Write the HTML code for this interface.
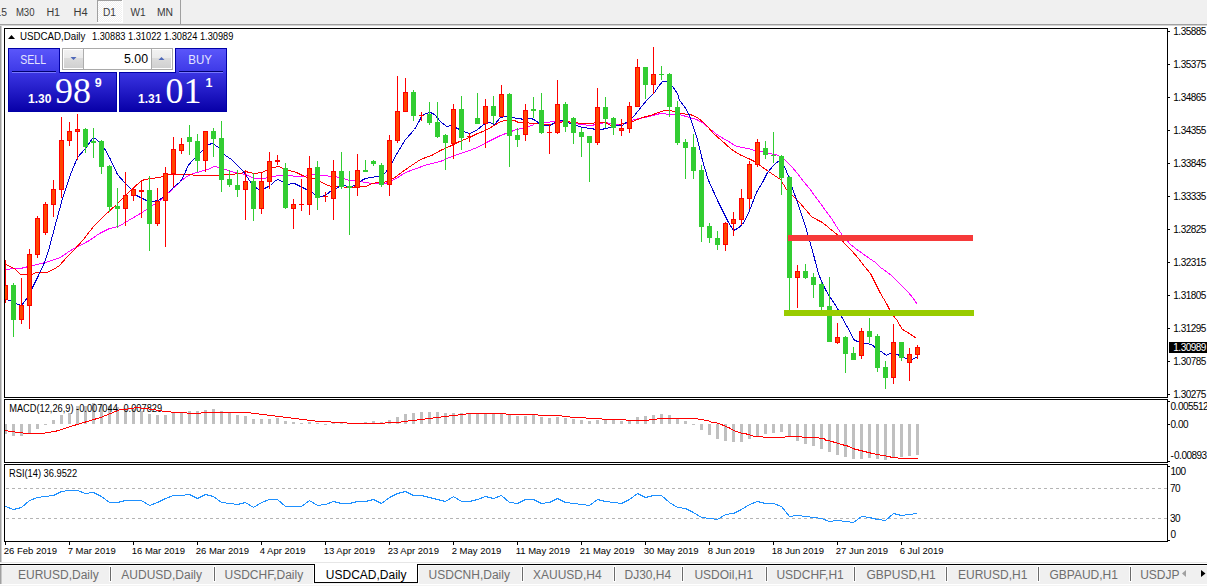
<!DOCTYPE html>
<html><head><meta charset="utf-8"><style>
html,body{margin:0;padding:0;width:1207px;height:586px;overflow:hidden;background:#fff;font-family:"Liberation Sans", sans-serif;}
svg text{font-family:"Liberation Sans", sans-serif;}
</style></head><body>
<svg width="1207" height="586" viewBox="0 0 1207 586" style="position:absolute;left:0;top:0" font-family='"Liberation Sans", sans-serif'>
<rect x="0" y="0" width="1207" height="586" fill="#ffffff"/>
<rect x="0" y="0" width="1207" height="24" fill="#f0f0f0"/>
<rect x="0" y="24" width="1207" height="1" fill="#a0a0a0"/>
<rect x="0" y="25" width="1207" height="1" fill="#d4d4d4"/>
<defs><pattern id="chk" x="0" y="0" width="2" height="2" patternUnits="userSpaceOnUse"><rect width="2" height="2" fill="#f0f0f0"/><rect width="1" height="1" fill="#ffffff"/><rect x="1" y="1" width="1" height="1" fill="#ffffff"/></pattern></defs>
<rect x="97" y="0" width="25" height="22" fill="url(#chk)" shape-rendering="crispEdges"/>
<rect x="122" y="0" width="1" height="23" fill="#ffffff"/>
<rect x="97" y="22" width="26" height="1" fill="#ffffff"/>
<rect x="97" y="0" width="1" height="22" fill="#a0a0a0"/>
<rect x="97" y="0" width="25" height="1" fill="#a0a0a0"/>
<rect x="180" y="0" width="1" height="24" fill="#a0a0a0"/>
<text x="-4.60" y="16.2" font-size="10" fill="#3a3a3a" textLength="11.50" lengthAdjust="spacingAndGlyphs">15</text>
<text x="15.90" y="16.2" font-size="10" fill="#3a3a3a" textLength="18.60" lengthAdjust="spacingAndGlyphs">M30</text>
<text x="46.40" y="16.2" font-size="10" fill="#3a3a3a" textLength="13.70" lengthAdjust="spacingAndGlyphs">H1</text>
<text x="73.40" y="16.2" font-size="10" fill="#3a3a3a" textLength="14.20" lengthAdjust="spacingAndGlyphs">H4</text>
<text x="103.00" y="16.2" font-size="10" fill="#3a3a3a" textLength="13.00" lengthAdjust="spacingAndGlyphs">D1</text>
<text x="130.40" y="16.2" font-size="10" fill="#3a3a3a" textLength="15.20" lengthAdjust="spacingAndGlyphs">W1</text>
<text x="156.90" y="16.2" font-size="10" fill="#3a3a3a" textLength="16.10" lengthAdjust="spacingAndGlyphs">MN</text>
<rect x="0" y="26" width="1" height="536" fill="#a0a0a0"/>
<rect x="1" y="26" width="1" height="536" fill="#d0d0d0"/>
<g shape-rendering="crispEdges">
<rect x="4.5" y="28.5" width="1163" height="369" fill="none" stroke="#000" stroke-width="1"/>
<rect x="4.5" y="399.5" width="1163" height="63" fill="none" stroke="#000" stroke-width="1"/>
<rect x="4.5" y="464.5" width="1163" height="77" fill="none" stroke="#000" stroke-width="1"/>
</g>
<defs><clipPath id="cm"><rect x="5" y="29" width="1162" height="368"/></clipPath><clipPath id="cd"><rect x="5" y="400" width="1162" height="62"/></clipPath><clipPath id="cr"><rect x="5" y="465" width="1162" height="76"/></clipPath></defs>
<g clip-path="url(#cm)" fill="none" stroke-width="1" shape-rendering="crispEdges">
<polyline points="5.5,269.5 15.5,268.5 20.5,268.5 32.5,265.5 45.5,262.5 60.5,257.5 70.5,250.5 89.5,240.5 99.5,233.5 109.5,228.5 118.5,226.5 128.5,220.5 140.5,213.5 146.5,209.5 152.5,205.5 159.5,201.5 166.5,194.5 173.5,188.5 180.5,181.5 186.5,176.5 193.5,173.5 200.5,171.5 207.5,169.5 214.5,166.5 219.5,167.5 225.5,169.5 234.5,172.5 245.5,174.5 254.5,178.5 262.5,178.5 270.5,177.5 277.5,175.5 280.5,175.5 288.5,175.5 296.5,176.5 303.5,176.5 308.5,175.5 315.5,174.5 323.5,175.5 332.5,176.5 340.5,177.5 343.5,178.5 349.5,180.5 355.5,180.5 360.5,181.5 365.5,182.5 372.5,183.5 380.5,183.5 385.5,183.5 394.5,179.5 405.5,172.5 416.5,168.5 424.5,165.5 431.5,163.5 440.5,161.5 449.5,157.5 460.5,153.5 469.5,150.5 479.5,146.5 486.5,142.5 494.5,138.5 500.5,135.5 508.5,132.5 516.5,129.5 522.5,128.5 528.5,126.5 534.5,124.5 535.5,123.5 541.5,122.5 545.5,122.5 554.5,121.5 564.5,121.5 573.5,123.5 581.5,124.5 590.5,125.5 596.5,124.5 605.5,122.5 609.5,123.5 610.5,123.5 617.5,124.5 625.5,123.5 634.5,119.5 644.5,117.5 652.5,115.5 660.5,113.5 670.5,114.5 679.5,114.5 689.5,117.5 696.5,119.5 703.5,123.5 709.5,128.5 715.5,133.5 721.5,137.5 730.5,142.5 734.5,145.5 741.5,147.5 748.5,148.5 754.5,150.5 761.5,151.5 768.5,153.5 775.5,154.5 780.5,156.5 785.5,160.5 791.5,166.5 797.5,173.5 803.5,181.5 809.5,188.5 814.5,195.5 820.5,203.5 825.5,210.5 831.5,218.5 836.5,226.5 842.5,235.5 844.5,236.5 849.5,243.5 855.5,248.5 862.5,253.5 869.5,258.5 875.5,262.5 880.5,267.5 883.5,269.5 891.5,275.5 896.5,280.5 902.5,286.5 908.5,292.5 912.5,297.5 917.5,304.5" stroke="#ff00ff"/>
<polyline points="5.5,264.5 10.5,266.5 15.5,269.5 20.5,274.5 31.5,274.5 36.5,272.5 46.5,272.5 53.5,269.5 59.5,265.5 66.5,257.5 73.5,250.5 83.5,239.5 93.5,226.5 103.5,216.5 116.5,204.5 128.5,192.5 140.5,181.5 144.5,179.5 151.5,178.5 158.5,177.5 163.5,176.5 167.5,174.5 178.5,174.5 188.5,174.5 196.5,175.5 201.5,175.5 215.5,175.5 225.5,174.5 233.5,174.5 236.5,173.5 240.5,173.5 245.5,171.5 249.5,172.5 254.5,173.5 261.5,172.5 266.5,170.5 273.5,167.5 278.5,166.5 283.5,168.5 289.5,170.5 296.5,172.5 302.5,175.5 307.5,177.5 310.5,178.5 314.5,178.5 320.5,181.5 325.5,184.5 331.5,186.5 341.5,186.5 346.5,187.5 351.5,187.5 357.5,186.5 365.5,186.5 372.5,183.5 378.5,182.5 384.5,182.5 385.5,181.5 393.5,178.5 401.5,172.5 408.5,167.5 420.5,159.5 431.5,155.5 440.5,150.5 449.5,146.5 459.5,141.5 469.5,137.5 477.5,133.5 485.5,130.5 492.5,126.5 500.5,121.5 505.5,120.5 514.5,120.5 518.5,122.5 524.5,122.5 532.5,123.5 535.5,123.5 541.5,123.5 545.5,124.5 551.5,124.5 558.5,122.5 565.5,121.5 573.5,122.5 582.5,123.5 591.5,123.5 596.5,122.5 605.5,122.5 607.5,123.5 610.5,125.5 617.5,125.5 623.5,123.5 632.5,121.5 637.5,119.5 642.5,117.5 650.5,115.5 658.5,112.5 664.5,110.5 670.5,110.5 679.5,113.5 689.5,114.5 693.5,115.5 698.5,118.5 703.5,122.5 707.5,126.5 713.5,133.5 721.5,140.5 730.5,148.5 734.5,151.5 741.5,155.5 748.5,158.5 754.5,161.5 761.5,166.5 768.5,171.5 774.5,175.5 780.5,179.5 786.5,189.5 793.5,196.5 799.5,202.5 805.5,209.5 811.5,216.5 816.5,219.5 822.5,222.5 828.5,227.5 834.5,232.5 839.5,236.5 844.5,243.5 851.5,250.5 858.5,258.5 864.5,266.5 870.5,273.5 875.5,283.5 880.5,293.5 886.5,303.5 891.5,313.5 896.5,319.5 902.5,329.5 909.5,333.5 916.5,338.5" stroke="#ff0000"/>
<polyline points="5.5,299.5 10.5,300.5 15.5,303.5 21.5,305.5 27.5,297.5 32.5,287.5 38.5,275.5 44.5,262.5 48.5,250.5 56.5,220.5 62.5,198.5 70.5,174.5 77.5,157.5 85.5,148.5 92.5,138.5 95.5,138.5 99.5,142.5 104.5,148.5 110.5,159.5 117.5,174.5 125.5,183.5 131.5,189.5 136.5,195.5 142.5,198.5 148.5,201.5 152.5,201.5 158.5,200.5 162.5,197.5 168.5,192.5 174.5,186.5 180.5,181.5 184.5,174.5 187.5,166.5 191.5,161.5 196.5,156.5 203.5,149.5 208.5,144.5 212.5,143.5 218.5,147.5 223.5,153.5 225.5,155.5 231.5,159.5 237.5,165.5 242.5,170.5 247.5,177.5 251.5,183.5 254.5,186.5 258.5,189.5 264.5,188.5 270.5,185.5 274.5,181.5 277.5,179.5 280.5,180.5 286.5,184.5 294.5,183.5 300.5,186.5 306.5,189.5 313.5,193.5 317.5,196.5 322.5,196.5 326.5,194.5 331.5,190.5 336.5,188.5 340.5,185.5 345.5,185.5 348.5,187.5 352.5,186.5 357.5,183.5 361.5,180.5 365.5,178.5 371.5,177.5 377.5,176.5 382.5,175.5 385.5,172.5 391.5,163.5 397.5,152.5 405.5,139.5 414.5,129.5 418.5,122.5 421.5,116.5 425.5,113.5 430.5,112.5 434.5,114.5 440.5,121.5 446.5,126.5 451.5,125.5 457.5,128.5 463.5,131.5 469.5,133.5 476.5,130.5 483.5,124.5 489.5,122.5 494.5,124.5 500.5,117.5 504.5,116.5 508.5,116.5 513.5,117.5 516.5,118.5 518.5,118.5 524.5,119.5 531.5,118.5 535.5,120.5 540.5,124.5 545.5,125.5 550.5,125.5 554.5,122.5 561.5,120.5 565.5,121.5 570.5,123.5 576.5,125.5 582.5,127.5 590.5,128.5 596.5,129.5 600.5,129.5 606.5,128.5 612.5,126.5 619.5,125.5 622.5,125.5 628.5,120.5 634.5,115.5 641.5,106.5 647.5,99.5 654.5,92.5 658.5,86.5 662.5,81.5 667.5,81.5 672.5,86.5 677.5,93.5 679.5,100.5 684.5,106.5 689.5,115.5 693.5,127.5 697.5,139.5 702.5,160.5 705.5,170.5 708.5,180.5 713.5,191.5 718.5,202.5 723.5,212.5 728.5,222.5 733.5,230.5 737.5,228.5 742.5,224.5 747.5,215.5 749.5,210.5 756.5,192.5 762.5,182.5 767.5,172.5 773.5,165.5 776.5,162.5 780.5,160.5 784.5,166.5 788.5,176.5 793.5,191.5 796.5,199.5 799.5,208.5 802.5,217.5 805.5,226.5 808.5,237.5 812.5,250.5 815.5,262.5 818.5,273.5 821.5,281.5 825.5,289.5 829.5,296.5 834.5,303.5 838.5,310.5 841.5,316.5 846.5,325.5 850.5,332.5 853.5,339.5 857.5,341.5 860.5,342.5 866.5,343.5 871.5,344.5 876.5,348.5 882.5,352.5 886.5,355.5 891.5,352.5 897.5,354.5 903.5,357.5 908.5,359.5 912.5,359.5 917.5,356.5" stroke="#0000cd"/>
</g>
<g clip-path="url(#cm)" shape-rendering="crispEdges">
<rect x="5" y="260" width="1" height="43" fill="#ff0000"/>
<rect x="3" y="285" width="5" height="15" fill="#ff0000"/>
<rect x="4" y="286" width="3" height="13" fill="#ff4500"/>
<rect x="13" y="283" width="1" height="54" fill="#32cd32"/>
<rect x="11" y="285" width="5" height="35" fill="#32cd32"/>
<rect x="21" y="278" width="1" height="46" fill="#ff0000"/>
<rect x="19" y="305" width="5" height="15" fill="#ff0000"/>
<rect x="20" y="306" width="3" height="13" fill="#ff4500"/>
<rect x="29" y="249" width="1" height="80" fill="#ff0000"/>
<rect x="27" y="254" width="5" height="52" fill="#ff0000"/>
<rect x="28" y="255" width="3" height="50" fill="#ff4500"/>
<rect x="37" y="216" width="1" height="42" fill="#ff0000"/>
<rect x="35" y="218" width="5" height="37" fill="#ff0000"/>
<rect x="36" y="219" width="3" height="35" fill="#ff4500"/>
<rect x="45" y="202" width="1" height="33" fill="#ff0000"/>
<rect x="43" y="204" width="5" height="29" fill="#ff0000"/>
<rect x="44" y="205" width="3" height="27" fill="#ff4500"/>
<rect x="53" y="180" width="1" height="37" fill="#ff0000"/>
<rect x="51" y="189" width="5" height="16" fill="#ff0000"/>
<rect x="52" y="190" width="3" height="14" fill="#ff4500"/>
<rect x="61" y="117" width="1" height="81" fill="#ff0000"/>
<rect x="59" y="140" width="5" height="50" fill="#ff0000"/>
<rect x="60" y="141" width="3" height="48" fill="#ff4500"/>
<rect x="69" y="122" width="1" height="24" fill="#ff0000"/>
<rect x="67" y="131" width="5" height="10" fill="#ff0000"/>
<rect x="68" y="132" width="3" height="8" fill="#ff4500"/>
<rect x="77" y="114" width="1" height="46" fill="#ff0000"/>
<rect x="75" y="129" width="5" height="3" fill="#ff0000"/>
<rect x="76" y="130" width="3" height="1" fill="#ff4500"/>
<rect x="85" y="128" width="1" height="25" fill="#32cd32"/>
<rect x="83" y="129" width="5" height="18" fill="#32cd32"/>
<rect x="93" y="128" width="1" height="30" fill="#32cd32"/>
<rect x="91" y="141" width="5" height="2" fill="#32cd32"/>
<rect x="101" y="140" width="1" height="34" fill="#32cd32"/>
<rect x="99" y="141" width="5" height="26" fill="#32cd32"/>
<rect x="109" y="165" width="1" height="47" fill="#32cd32"/>
<rect x="107" y="166" width="5" height="41" fill="#32cd32"/>
<rect x="117" y="188" width="1" height="40" fill="#32cd32"/>
<rect x="115" y="206" width="5" height="3" fill="#32cd32"/>
<rect x="125" y="172" width="1" height="54" fill="#ff0000"/>
<rect x="123" y="195" width="5" height="14" fill="#ff0000"/>
<rect x="124" y="196" width="3" height="12" fill="#ff4500"/>
<rect x="133" y="187" width="1" height="14" fill="#ff0000"/>
<rect x="131" y="189" width="5" height="7" fill="#ff0000"/>
<rect x="132" y="190" width="3" height="5" fill="#ff4500"/>
<rect x="141" y="180" width="1" height="38" fill="#ff0000"/>
<rect x="139" y="190" width="5" height="2" fill="#ff0000"/>
<rect x="149" y="176" width="1" height="75" fill="#32cd32"/>
<rect x="147" y="190" width="5" height="34" fill="#32cd32"/>
<rect x="157" y="188" width="1" height="38" fill="#ff0000"/>
<rect x="155" y="201" width="5" height="23" fill="#ff0000"/>
<rect x="156" y="202" width="3" height="21" fill="#ff4500"/>
<rect x="165" y="167" width="1" height="80" fill="#ff0000"/>
<rect x="163" y="173" width="5" height="28" fill="#ff0000"/>
<rect x="164" y="174" width="3" height="26" fill="#ff4500"/>
<rect x="173" y="137" width="1" height="50" fill="#ff0000"/>
<rect x="171" y="149" width="5" height="25" fill="#ff0000"/>
<rect x="172" y="150" width="3" height="23" fill="#ff4500"/>
<rect x="181" y="138" width="1" height="16" fill="#ff0000"/>
<rect x="179" y="144" width="5" height="7" fill="#ff0000"/>
<rect x="180" y="145" width="3" height="5" fill="#ff4500"/>
<rect x="189" y="125" width="1" height="30" fill="#32cd32"/>
<rect x="187" y="137" width="5" height="5" fill="#32cd32"/>
<rect x="197" y="134" width="1" height="38" fill="#32cd32"/>
<rect x="195" y="141" width="5" height="20" fill="#32cd32"/>
<rect x="205" y="131" width="1" height="41" fill="#ff0000"/>
<rect x="203" y="131" width="5" height="30" fill="#ff0000"/>
<rect x="204" y="132" width="3" height="28" fill="#ff4500"/>
<rect x="213" y="128" width="1" height="29" fill="#32cd32"/>
<rect x="211" y="131" width="5" height="8" fill="#32cd32"/>
<rect x="221" y="121" width="1" height="71" fill="#32cd32"/>
<rect x="219" y="138" width="5" height="42" fill="#32cd32"/>
<rect x="229" y="170" width="1" height="17" fill="#32cd32"/>
<rect x="227" y="179" width="5" height="6" fill="#32cd32"/>
<rect x="237" y="170" width="1" height="27" fill="#32cd32"/>
<rect x="235" y="185" width="5" height="5" fill="#32cd32"/>
<rect x="245" y="170" width="1" height="50" fill="#ff0000"/>
<rect x="243" y="181" width="5" height="9" fill="#ff0000"/>
<rect x="244" y="182" width="3" height="7" fill="#ff4500"/>
<rect x="253" y="173" width="1" height="48" fill="#32cd32"/>
<rect x="251" y="181" width="5" height="28" fill="#32cd32"/>
<rect x="261" y="173" width="1" height="41" fill="#ff0000"/>
<rect x="259" y="181" width="5" height="28" fill="#ff0000"/>
<rect x="260" y="182" width="3" height="26" fill="#ff4500"/>
<rect x="269" y="152" width="1" height="37" fill="#ff0000"/>
<rect x="267" y="161" width="5" height="21" fill="#ff0000"/>
<rect x="268" y="162" width="3" height="19" fill="#ff4500"/>
<rect x="277" y="155" width="1" height="10" fill="#ff0000"/>
<rect x="275" y="160" width="5" height="2" fill="#ff0000"/>
<rect x="285" y="163" width="1" height="46" fill="#32cd32"/>
<rect x="283" y="168" width="5" height="40" fill="#32cd32"/>
<rect x="293" y="199" width="1" height="30" fill="#ff0000"/>
<rect x="291" y="204" width="5" height="5" fill="#ff0000"/>
<rect x="292" y="205" width="3" height="3" fill="#ff4500"/>
<rect x="301" y="179" width="1" height="32" fill="#ff0000"/>
<rect x="299" y="204" width="5" height="1" fill="#ff0000"/>
<rect x="309" y="156" width="1" height="59" fill="#ff0000"/>
<rect x="307" y="168" width="5" height="37" fill="#ff0000"/>
<rect x="308" y="169" width="3" height="35" fill="#ff4500"/>
<rect x="317" y="161" width="1" height="49" fill="#32cd32"/>
<rect x="315" y="167" width="5" height="31" fill="#32cd32"/>
<rect x="325" y="192" width="1" height="10" fill="#ff0000"/>
<rect x="323" y="196" width="5" height="1" fill="#ff0000"/>
<rect x="333" y="160" width="1" height="60" fill="#ff0000"/>
<rect x="331" y="171" width="5" height="28" fill="#ff0000"/>
<rect x="332" y="172" width="3" height="26" fill="#ff4500"/>
<rect x="341" y="152" width="1" height="37" fill="#32cd32"/>
<rect x="339" y="171" width="5" height="16" fill="#32cd32"/>
<rect x="349" y="171" width="1" height="64" fill="#32cd32"/>
<rect x="347" y="186" width="5" height="2" fill="#32cd32"/>
<rect x="357" y="154" width="1" height="42" fill="#ff0000"/>
<rect x="355" y="170" width="5" height="18" fill="#ff0000"/>
<rect x="356" y="171" width="3" height="16" fill="#ff4500"/>
<rect x="365" y="160" width="1" height="12" fill="#32cd32"/>
<rect x="363" y="170" width="5" height="2" fill="#32cd32"/>
<rect x="373" y="160" width="1" height="6" fill="#32cd32"/>
<rect x="371" y="161" width="5" height="3" fill="#32cd32"/>
<rect x="381" y="163" width="1" height="24" fill="#32cd32"/>
<rect x="379" y="165" width="5" height="20" fill="#32cd32"/>
<rect x="389" y="135" width="1" height="61" fill="#ff0000"/>
<rect x="387" y="140" width="5" height="45" fill="#ff0000"/>
<rect x="388" y="141" width="3" height="43" fill="#ff4500"/>
<rect x="397" y="76" width="1" height="67" fill="#ff0000"/>
<rect x="395" y="111" width="5" height="30" fill="#ff0000"/>
<rect x="396" y="112" width="3" height="28" fill="#ff4500"/>
<rect x="405" y="78" width="1" height="34" fill="#ff0000"/>
<rect x="403" y="92" width="5" height="20" fill="#ff0000"/>
<rect x="404" y="93" width="3" height="18" fill="#ff4500"/>
<rect x="413" y="90" width="1" height="31" fill="#32cd32"/>
<rect x="411" y="92" width="5" height="24" fill="#32cd32"/>
<rect x="421" y="112" width="1" height="9" fill="#ff0000"/>
<rect x="419" y="115" width="5" height="1" fill="#ff0000"/>
<rect x="429" y="102" width="1" height="23" fill="#32cd32"/>
<rect x="427" y="114" width="5" height="9" fill="#32cd32"/>
<rect x="437" y="102" width="1" height="36" fill="#32cd32"/>
<rect x="435" y="122" width="5" height="15" fill="#32cd32"/>
<rect x="445" y="134" width="1" height="36" fill="#32cd32"/>
<rect x="443" y="135" width="5" height="8" fill="#32cd32"/>
<rect x="453" y="104" width="1" height="55" fill="#ff0000"/>
<rect x="451" y="109" width="5" height="35" fill="#ff0000"/>
<rect x="452" y="110" width="3" height="33" fill="#ff4500"/>
<rect x="461" y="96" width="1" height="54" fill="#32cd32"/>
<rect x="459" y="109" width="5" height="29" fill="#32cd32"/>
<rect x="469" y="133" width="1" height="9" fill="#ff0000"/>
<rect x="467" y="136" width="5" height="1" fill="#ff0000"/>
<rect x="477" y="93" width="1" height="31" fill="#32cd32"/>
<rect x="475" y="118" width="5" height="6" fill="#32cd32"/>
<rect x="485" y="99" width="1" height="49" fill="#ff0000"/>
<rect x="483" y="106" width="5" height="18" fill="#ff0000"/>
<rect x="484" y="107" width="3" height="16" fill="#ff4500"/>
<rect x="493" y="96" width="1" height="28" fill="#32cd32"/>
<rect x="491" y="106" width="5" height="10" fill="#32cd32"/>
<rect x="501" y="85" width="1" height="32" fill="#ff0000"/>
<rect x="499" y="94" width="5" height="23" fill="#ff0000"/>
<rect x="500" y="95" width="3" height="21" fill="#ff4500"/>
<rect x="509" y="93" width="1" height="74" fill="#32cd32"/>
<rect x="507" y="94" width="5" height="42" fill="#32cd32"/>
<rect x="517" y="128" width="1" height="19" fill="#32cd32"/>
<rect x="515" y="135" width="5" height="5" fill="#32cd32"/>
<rect x="525" y="104" width="1" height="37" fill="#ff0000"/>
<rect x="523" y="110" width="5" height="25" fill="#ff0000"/>
<rect x="524" y="111" width="3" height="23" fill="#ff4500"/>
<rect x="533" y="97" width="1" height="21" fill="#32cd32"/>
<rect x="531" y="109" width="5" height="2" fill="#32cd32"/>
<rect x="541" y="93" width="1" height="41" fill="#32cd32"/>
<rect x="539" y="110" width="5" height="23" fill="#32cd32"/>
<rect x="549" y="124" width="1" height="30" fill="#ff0000"/>
<rect x="547" y="132" width="5" height="1" fill="#ff0000"/>
<rect x="557" y="80" width="1" height="54" fill="#ff0000"/>
<rect x="555" y="104" width="5" height="29" fill="#ff0000"/>
<rect x="556" y="105" width="3" height="27" fill="#ff4500"/>
<rect x="565" y="102" width="1" height="30" fill="#32cd32"/>
<rect x="563" y="104" width="5" height="23" fill="#32cd32"/>
<rect x="573" y="117" width="1" height="27" fill="#32cd32"/>
<rect x="571" y="118" width="5" height="15" fill="#32cd32"/>
<rect x="581" y="128" width="1" height="29" fill="#32cd32"/>
<rect x="579" y="132" width="5" height="5" fill="#32cd32"/>
<rect x="589" y="136" width="1" height="46" fill="#32cd32"/>
<rect x="587" y="136" width="5" height="7" fill="#32cd32"/>
<rect x="597" y="88" width="1" height="57" fill="#ff0000"/>
<rect x="595" y="107" width="5" height="36" fill="#ff0000"/>
<rect x="596" y="108" width="3" height="34" fill="#ff4500"/>
<rect x="605" y="97" width="1" height="31" fill="#32cd32"/>
<rect x="603" y="107" width="5" height="12" fill="#32cd32"/>
<rect x="613" y="117" width="1" height="18" fill="#32cd32"/>
<rect x="611" y="118" width="5" height="10" fill="#32cd32"/>
<rect x="621" y="119" width="1" height="17" fill="#ff0000"/>
<rect x="619" y="128" width="5" height="3" fill="#ff0000"/>
<rect x="620" y="129" width="3" height="1" fill="#ff4500"/>
<rect x="629" y="102" width="1" height="31" fill="#ff0000"/>
<rect x="627" y="106" width="5" height="23" fill="#ff0000"/>
<rect x="628" y="107" width="3" height="21" fill="#ff4500"/>
<rect x="637" y="59" width="1" height="48" fill="#ff0000"/>
<rect x="635" y="67" width="5" height="40" fill="#ff0000"/>
<rect x="636" y="68" width="3" height="38" fill="#ff4500"/>
<rect x="645" y="67" width="1" height="32" fill="#32cd32"/>
<rect x="643" y="67" width="5" height="18" fill="#32cd32"/>
<rect x="653" y="47" width="1" height="47" fill="#ff0000"/>
<rect x="651" y="74" width="5" height="11" fill="#ff0000"/>
<rect x="652" y="75" width="3" height="9" fill="#ff4500"/>
<rect x="661" y="66" width="1" height="14" fill="#32cd32"/>
<rect x="659" y="74" width="5" height="1" fill="#32cd32"/>
<rect x="669" y="73" width="1" height="44" fill="#32cd32"/>
<rect x="667" y="74" width="5" height="33" fill="#32cd32"/>
<rect x="677" y="101" width="1" height="44" fill="#32cd32"/>
<rect x="675" y="107" width="5" height="36" fill="#32cd32"/>
<rect x="685" y="139" width="1" height="40" fill="#32cd32"/>
<rect x="683" y="142" width="5" height="6" fill="#32cd32"/>
<rect x="693" y="134" width="1" height="45" fill="#32cd32"/>
<rect x="691" y="147" width="5" height="24" fill="#32cd32"/>
<rect x="701" y="165" width="1" height="77" fill="#32cd32"/>
<rect x="699" y="170" width="5" height="57" fill="#32cd32"/>
<rect x="709" y="223" width="1" height="20" fill="#32cd32"/>
<rect x="707" y="226" width="5" height="12" fill="#32cd32"/>
<rect x="717" y="231" width="1" height="19" fill="#32cd32"/>
<rect x="715" y="238" width="5" height="7" fill="#32cd32"/>
<rect x="725" y="222" width="1" height="29" fill="#ff0000"/>
<rect x="723" y="223" width="5" height="22" fill="#ff0000"/>
<rect x="724" y="224" width="3" height="20" fill="#ff4500"/>
<rect x="733" y="212" width="1" height="24" fill="#ff0000"/>
<rect x="731" y="219" width="5" height="5" fill="#ff0000"/>
<rect x="732" y="220" width="3" height="3" fill="#ff4500"/>
<rect x="741" y="189" width="1" height="36" fill="#ff0000"/>
<rect x="739" y="198" width="5" height="22" fill="#ff0000"/>
<rect x="740" y="199" width="3" height="20" fill="#ff4500"/>
<rect x="749" y="161" width="1" height="48" fill="#ff0000"/>
<rect x="747" y="164" width="5" height="35" fill="#ff0000"/>
<rect x="748" y="165" width="3" height="33" fill="#ff4500"/>
<rect x="757" y="139" width="1" height="28" fill="#ff0000"/>
<rect x="755" y="142" width="5" height="23" fill="#ff0000"/>
<rect x="756" y="143" width="3" height="21" fill="#ff4500"/>
<rect x="765" y="141" width="1" height="18" fill="#32cd32"/>
<rect x="763" y="148" width="5" height="7" fill="#32cd32"/>
<rect x="773" y="132" width="1" height="31" fill="#32cd32"/>
<rect x="771" y="155" width="5" height="1" fill="#32cd32"/>
<rect x="781" y="155" width="1" height="40" fill="#32cd32"/>
<rect x="779" y="156" width="5" height="22" fill="#32cd32"/>
<rect x="789" y="176" width="1" height="135" fill="#32cd32"/>
<rect x="787" y="177" width="5" height="101" fill="#32cd32"/>
<rect x="797" y="265" width="1" height="43" fill="#ff0000"/>
<rect x="795" y="271" width="5" height="7" fill="#ff0000"/>
<rect x="796" y="272" width="3" height="5" fill="#ff4500"/>
<rect x="805" y="264" width="1" height="15" fill="#32cd32"/>
<rect x="803" y="271" width="5" height="7" fill="#32cd32"/>
<rect x="813" y="273" width="1" height="25" fill="#32cd32"/>
<rect x="811" y="277" width="5" height="8" fill="#32cd32"/>
<rect x="821" y="282" width="1" height="28" fill="#32cd32"/>
<rect x="819" y="284" width="5" height="23" fill="#32cd32"/>
<rect x="829" y="277" width="1" height="65" fill="#32cd32"/>
<rect x="827" y="306" width="5" height="36" fill="#32cd32"/>
<rect x="837" y="323" width="1" height="21" fill="#ff0000"/>
<rect x="835" y="337" width="5" height="6" fill="#ff0000"/>
<rect x="836" y="338" width="3" height="4" fill="#ff4500"/>
<rect x="845" y="336" width="1" height="37" fill="#32cd32"/>
<rect x="843" y="337" width="5" height="17" fill="#32cd32"/>
<rect x="853" y="347" width="1" height="13" fill="#32cd32"/>
<rect x="851" y="353" width="5" height="7" fill="#32cd32"/>
<rect x="861" y="328" width="1" height="31" fill="#ff0000"/>
<rect x="859" y="331" width="5" height="25" fill="#ff0000"/>
<rect x="860" y="332" width="3" height="23" fill="#ff4500"/>
<rect x="869" y="318" width="1" height="25" fill="#32cd32"/>
<rect x="867" y="331" width="5" height="6" fill="#32cd32"/>
<rect x="877" y="334" width="1" height="38" fill="#32cd32"/>
<rect x="875" y="336" width="5" height="32" fill="#32cd32"/>
<rect x="885" y="361" width="1" height="28" fill="#32cd32"/>
<rect x="883" y="367" width="5" height="11" fill="#32cd32"/>
<rect x="893" y="324" width="1" height="60" fill="#ff0000"/>
<rect x="891" y="342" width="5" height="36" fill="#ff0000"/>
<rect x="892" y="343" width="3" height="34" fill="#ff4500"/>
<rect x="901" y="342" width="1" height="19" fill="#32cd32"/>
<rect x="899" y="342" width="5" height="16" fill="#32cd32"/>
<rect x="909" y="348" width="1" height="33" fill="#ff0000"/>
<rect x="907" y="354" width="5" height="9" fill="#ff0000"/>
<rect x="908" y="355" width="3" height="7" fill="#ff4500"/>
<rect x="917" y="345" width="1" height="14" fill="#ff0000"/>
<rect x="915" y="347" width="5" height="8" fill="#ff0000"/>
<rect x="916" y="348" width="3" height="6" fill="#ff4500"/>
</g>
<rect x="788" y="235" width="185" height="6" fill="#f63a3a"/>
<rect x="784" y="310" width="190" height="6" fill="#99cc00"/>
<g clip-path="url(#cd)" shape-rendering="crispEdges">
<rect x="4" y="424" width="3" height="10" fill="#c0c0c0"/>
<rect x="12" y="424" width="3" height="12" fill="#c0c0c0"/>
<rect x="20" y="424" width="3" height="12" fill="#c0c0c0"/>
<rect x="28" y="424" width="3" height="10" fill="#c0c0c0"/>
<rect x="36" y="424" width="3" height="5" fill="#c0c0c0"/>
<rect x="44" y="424" width="3" height="1" fill="#c0c0c0"/>
<rect x="52" y="420" width="3" height="4" fill="#c0c0c0"/>
<rect x="60" y="415" width="3" height="9" fill="#c0c0c0"/>
<rect x="68" y="413" width="3" height="11" fill="#c0c0c0"/>
<rect x="76" y="406" width="3" height="18" fill="#c0c0c0"/>
<rect x="84" y="406" width="3" height="18" fill="#c0c0c0"/>
<rect x="92" y="403" width="3" height="21" fill="#c0c0c0"/>
<rect x="100" y="404" width="3" height="20" fill="#c0c0c0"/>
<rect x="108" y="406" width="3" height="18" fill="#c0c0c0"/>
<rect x="116" y="407" width="3" height="17" fill="#c0c0c0"/>
<rect x="124" y="408" width="3" height="16" fill="#c0c0c0"/>
<rect x="132" y="409" width="3" height="15" fill="#c0c0c0"/>
<rect x="140" y="411" width="3" height="13" fill="#c0c0c0"/>
<rect x="148" y="414" width="3" height="10" fill="#c0c0c0"/>
<rect x="156" y="415" width="3" height="9" fill="#c0c0c0"/>
<rect x="164" y="415" width="3" height="9" fill="#c0c0c0"/>
<rect x="172" y="413" width="3" height="11" fill="#c0c0c0"/>
<rect x="180" y="413" width="3" height="11" fill="#c0c0c0"/>
<rect x="188" y="411" width="3" height="13" fill="#c0c0c0"/>
<rect x="196" y="411" width="3" height="13" fill="#c0c0c0"/>
<rect x="204" y="410" width="3" height="14" fill="#c0c0c0"/>
<rect x="212" y="409" width="3" height="15" fill="#c0c0c0"/>
<rect x="220" y="411" width="3" height="13" fill="#c0c0c0"/>
<rect x="228" y="413" width="3" height="11" fill="#c0c0c0"/>
<rect x="236" y="415" width="3" height="9" fill="#c0c0c0"/>
<rect x="244" y="416" width="3" height="8" fill="#c0c0c0"/>
<rect x="252" y="419" width="3" height="5" fill="#c0c0c0"/>
<rect x="260" y="419" width="3" height="5" fill="#c0c0c0"/>
<rect x="268" y="419" width="3" height="5" fill="#c0c0c0"/>
<rect x="276" y="418" width="3" height="6" fill="#c0c0c0"/>
<rect x="284" y="421" width="3" height="3" fill="#c0c0c0"/>
<rect x="292" y="422" width="3" height="2" fill="#c0c0c0"/>
<rect x="300" y="423" width="3" height="1" fill="#c0c0c0"/>
<rect x="308" y="422" width="3" height="2" fill="#c0c0c0"/>
<rect x="316" y="423" width="3" height="1" fill="#c0c0c0"/>
<rect x="324" y="424" width="3" height="1" fill="#c0c0c0"/>
<rect x="332" y="423" width="3" height="1" fill="#c0c0c0"/>
<rect x="340" y="423" width="3" height="1" fill="#c0c0c0"/>
<rect x="348" y="423" width="3" height="1" fill="#c0c0c0"/>
<rect x="356" y="423" width="3" height="1" fill="#c0c0c0"/>
<rect x="364" y="422" width="3" height="2" fill="#c0c0c0"/>
<rect x="372" y="421" width="3" height="3" fill="#c0c0c0"/>
<rect x="380" y="422" width="3" height="2" fill="#c0c0c0"/>
<rect x="388" y="420" width="3" height="4" fill="#c0c0c0"/>
<rect x="396" y="417" width="3" height="7" fill="#c0c0c0"/>
<rect x="404" y="414" width="3" height="10" fill="#c0c0c0"/>
<rect x="412" y="413" width="3" height="11" fill="#c0c0c0"/>
<rect x="420" y="412" width="3" height="12" fill="#c0c0c0"/>
<rect x="428" y="412" width="3" height="12" fill="#c0c0c0"/>
<rect x="436" y="412" width="3" height="12" fill="#c0c0c0"/>
<rect x="444" y="413" width="3" height="11" fill="#c0c0c0"/>
<rect x="452" y="413" width="3" height="11" fill="#c0c0c0"/>
<rect x="460" y="413" width="3" height="11" fill="#c0c0c0"/>
<rect x="468" y="414" width="3" height="10" fill="#c0c0c0"/>
<rect x="476" y="414" width="3" height="10" fill="#c0c0c0"/>
<rect x="484" y="414" width="3" height="10" fill="#c0c0c0"/>
<rect x="492" y="414" width="3" height="10" fill="#c0c0c0"/>
<rect x="500" y="414" width="3" height="10" fill="#c0c0c0"/>
<rect x="508" y="415" width="3" height="9" fill="#c0c0c0"/>
<rect x="516" y="416" width="3" height="8" fill="#c0c0c0"/>
<rect x="524" y="416" width="3" height="8" fill="#c0c0c0"/>
<rect x="532" y="415" width="3" height="9" fill="#c0c0c0"/>
<rect x="540" y="417" width="3" height="7" fill="#c0c0c0"/>
<rect x="548" y="418" width="3" height="6" fill="#c0c0c0"/>
<rect x="556" y="417" width="3" height="7" fill="#c0c0c0"/>
<rect x="564" y="418" width="3" height="6" fill="#c0c0c0"/>
<rect x="572" y="419" width="3" height="5" fill="#c0c0c0"/>
<rect x="580" y="420" width="3" height="4" fill="#c0c0c0"/>
<rect x="588" y="421" width="3" height="3" fill="#c0c0c0"/>
<rect x="596" y="420" width="3" height="4" fill="#c0c0c0"/>
<rect x="604" y="420" width="3" height="4" fill="#c0c0c0"/>
<rect x="612" y="420" width="3" height="4" fill="#c0c0c0"/>
<rect x="620" y="421" width="3" height="3" fill="#c0c0c0"/>
<rect x="628" y="421" width="3" height="3" fill="#c0c0c0"/>
<rect x="636" y="417" width="3" height="7" fill="#c0c0c0"/>
<rect x="644" y="416" width="3" height="8" fill="#c0c0c0"/>
<rect x="652" y="415" width="3" height="9" fill="#c0c0c0"/>
<rect x="660" y="414" width="3" height="10" fill="#c0c0c0"/>
<rect x="668" y="415" width="3" height="9" fill="#c0c0c0"/>
<rect x="676" y="419" width="3" height="5" fill="#c0c0c0"/>
<rect x="684" y="421" width="3" height="3" fill="#c0c0c0"/>
<rect x="692" y="424" width="3" height="1" fill="#c0c0c0"/>
<rect x="700" y="424" width="3" height="6" fill="#c0c0c0"/>
<rect x="708" y="424" width="3" height="11" fill="#c0c0c0"/>
<rect x="716" y="424" width="3" height="15" fill="#c0c0c0"/>
<rect x="724" y="424" width="3" height="17" fill="#c0c0c0"/>
<rect x="732" y="424" width="3" height="18" fill="#c0c0c0"/>
<rect x="740" y="424" width="3" height="18" fill="#c0c0c0"/>
<rect x="748" y="424" width="3" height="15" fill="#c0c0c0"/>
<rect x="756" y="424" width="3" height="12" fill="#c0c0c0"/>
<rect x="764" y="424" width="3" height="10" fill="#c0c0c0"/>
<rect x="772" y="424" width="3" height="9" fill="#c0c0c0"/>
<rect x="780" y="424" width="3" height="8" fill="#c0c0c0"/>
<rect x="788" y="424" width="3" height="12" fill="#c0c0c0"/>
<rect x="796" y="424" width="3" height="17" fill="#c0c0c0"/>
<rect x="804" y="424" width="3" height="20" fill="#c0c0c0"/>
<rect x="812" y="424" width="3" height="22" fill="#c0c0c0"/>
<rect x="820" y="424" width="3" height="25" fill="#c0c0c0"/>
<rect x="828" y="424" width="3" height="28" fill="#c0c0c0"/>
<rect x="836" y="424" width="3" height="31" fill="#c0c0c0"/>
<rect x="844" y="424" width="3" height="33" fill="#c0c0c0"/>
<rect x="852" y="424" width="3" height="35" fill="#c0c0c0"/>
<rect x="860" y="424" width="3" height="35" fill="#c0c0c0"/>
<rect x="868" y="424" width="3" height="34" fill="#c0c0c0"/>
<rect x="876" y="424" width="3" height="35" fill="#c0c0c0"/>
<rect x="884" y="424" width="3" height="36" fill="#c0c0c0"/>
<rect x="892" y="424" width="3" height="34" fill="#c0c0c0"/>
<rect x="900" y="424" width="3" height="33" fill="#c0c0c0"/>
<rect x="908" y="424" width="3" height="32" fill="#c0c0c0"/>
<rect x="916" y="424" width="3" height="31" fill="#c0c0c0"/>
</g>
<text x="9.20" y="412" font-size="10" fill="#000" textLength="152.90" lengthAdjust="spacingAndGlyphs">MACD(12,26,9) -0.007044 -0.007829</text>
<polyline clip-path="url(#cd)" shape-rendering="crispEdges" points="5.5,430.5 10.5,431.5 19.5,432.5 26.5,433.5 31.5,433.5 36.5,433.5 41.5,433.5 48.5,432.5 54.5,431.5 58.5,430.5 64.5,428.5 70.5,426.5 80.5,423.5 90.5,420.5 100.5,417.5 105.5,415.5 110.5,413.5 115.5,411.5 120.5,409.5 125.5,409.5 136.5,407.5 153.5,409.5 164.5,411.5 170.5,411.5 171.5,412.5 186.5,412.5 187.5,413.5 200.5,413.5 201.5,412.5 250.5,412.5 251.5,413.5 258.5,413.5 259.5,414.5 266.5,414.5 267.5,415.5 274.5,415.5 275.5,416.5 282.5,416.5 283.5,417.5 290.5,417.5 291.5,418.5 298.5,418.5 299.5,419.5 306.5,419.5 307.5,420.5 314.5,420.5 315.5,421.5 330.5,421.5 331.5,422.5 346.5,422.5 347.5,423.5 384.5,423.5 385.5,422.5 400.5,422.5 401.5,421.5 407.5,421.5 408.5,420.5 416.5,420.5 417.5,419.5 424.5,419.5 425.5,418.5 432.5,418.5 433.5,417.5 440.5,417.5 441.5,416.5 448.5,416.5 449.5,415.5 457.5,415.5 458.5,414.5 465.5,414.5 466.5,413.5 505.5,413.5 506.5,414.5 537.5,414.5 538.5,415.5 561.5,415.5 562.5,416.5 569.5,416.5 570.5,417.5 585.5,417.5 586.5,418.5 601.5,418.5 602.5,419.5 625.5,419.5 626.5,420.5 648.5,420.5 649.5,419.5 656.5,419.5 657.5,418.5 697.5,418.5 698.5,419.5 703.5,419.5 704.5,420.5 708.5,420.5 709.5,421.5 712.5,422.5 716.5,422.5 717.5,423.5 719.5,423.5 720.5,424.5 724.5,425.5 725.5,426.5 728.5,427.5 730.5,428.5 733.5,430.5 736.5,431.5 739.5,432.5 742.5,433.5 744.5,433.5 748.5,434.5 751.5,435.5 754.5,436.5 757.5,436.5 762.5,436.5 763.5,437.5 784.5,437.5 785.5,436.5 801.5,436.5 802.5,437.5 818.5,437.5 819.5,438.5 824.5,438.5 825.5,440.5 828.5,440.5 831.5,441.5 835.5,442.5 838.5,443.5 841.5,444.5 845.5,445.5 849.5,446.5 852.5,448.5 856.5,449.5 860.5,450.5 864.5,451.5 868.5,452.5 872.5,453.5 877.5,454.5 882.5,455.5 889.5,456.5 891.5,457.5 897.5,457.5 898.5,458.5 917.5,458.5" stroke="#ff0000" fill="none"/>
<g shape-rendering="crispEdges">
<line x1="6" y1="488.5" x2="1167" y2="488.5" stroke="#b4b4b4" stroke-dasharray="3,3"/>
<line x1="6" y1="518.5" x2="1167" y2="518.5" stroke="#b4b4b4" stroke-dasharray="3,3"/>
</g>
<polyline clip-path="url(#cr)" shape-rendering="crispEdges" points="5.5,506.5 13.5,509.5 21.5,507.5 29.5,500.5 37.5,497.5 45.5,496.5 53.5,495.5 61.5,491.5 69.5,490.5 77.5,490.5 85.5,493.5 93.5,492.5 101.5,496.5 109.5,502.5 117.5,502.5 125.5,500.5 133.5,500.5 141.5,500.5 149.5,505.5 157.5,502.5 165.5,498.5 173.5,495.5 181.5,495.5 189.5,494.5 197.5,498.5 205.5,494.5 213.5,496.5 221.5,502.5 229.5,503.5 237.5,504.5 245.5,502.5 253.5,507.5 261.5,502.5 269.5,499.5 277.5,499.5 285.5,506.5 293.5,506.5 301.5,506.5 309.5,500.5 317.5,505.5 325.5,504.5 333.5,501.5 341.5,503.5 349.5,503.5 357.5,501.5 365.5,501.5 373.5,499.5 381.5,503.5 389.5,497.5 397.5,493.5 405.5,491.5 413.5,495.5 421.5,495.5 429.5,497.5 437.5,499.5 445.5,501.5 453.5,496.5 461.5,501.5 469.5,501.5 477.5,499.5 485.5,496.5 493.5,498.5 501.5,495.5 509.5,502.5 517.5,503.5 525.5,499.5 533.5,499.5 541.5,503.5 549.5,502.5 557.5,498.5 565.5,502.5 573.5,503.5 581.5,504.5 589.5,505.5 597.5,499.5 605.5,501.5 613.5,502.5 621.5,503.5 629.5,499.5 637.5,493.5 645.5,497.5 653.5,495.5 661.5,495.5 669.5,502.5 677.5,507.5 685.5,508.5 693.5,512.5 701.5,517.5 709.5,518.5 717.5,519.5 725.5,514.5 733.5,513.5 741.5,509.5 749.5,504.5 757.5,501.5 765.5,503.5 773.5,503.5 781.5,506.5 789.5,516.5 797.5,515.5 805.5,516.5 813.5,517.5 821.5,518.5 829.5,521.5 837.5,520.5 845.5,521.5 853.5,522.5 861.5,516.5 869.5,517.5 877.5,519.5 885.5,520.5 893.5,513.5 901.5,515.5 909.5,514.5 917.5,513.5" stroke="#1e90ff" fill="none"/>
<g shape-rendering="crispEdges">
<rect x="1168" y="31" width="2" height="1" fill="#000"/>
<rect x="1168" y="64" width="2" height="1" fill="#000"/>
<rect x="1168" y="97" width="2" height="1" fill="#000"/>
<rect x="1168" y="130" width="2" height="1" fill="#000"/>
<rect x="1168" y="163" width="2" height="1" fill="#000"/>
<rect x="1168" y="196" width="2" height="1" fill="#000"/>
<rect x="1168" y="229" width="2" height="1" fill="#000"/>
<rect x="1168" y="262" width="2" height="1" fill="#000"/>
<rect x="1168" y="295" width="2" height="1" fill="#000"/>
<rect x="1168" y="328" width="2" height="1" fill="#000"/>
<rect x="1168" y="361" width="2" height="1" fill="#000"/>
<rect x="1168" y="394" width="2" height="1" fill="#000"/>
</g>
<text x="1173.3 1178.3 1180.8 1185.8 1190.8 1195.8 1200.8" y="35" font-size="10" fill="#000">1.35885</text>
<text x="1173.3 1178.3 1180.8 1185.8 1190.8 1195.8 1200.8" y="68" font-size="10" fill="#000">1.35375</text>
<text x="1173.3 1178.3 1180.8 1185.8 1190.8 1195.8 1200.8" y="101" font-size="10" fill="#000">1.34865</text>
<text x="1173.3 1178.3 1180.8 1185.8 1190.8 1195.8 1200.8" y="134" font-size="10" fill="#000">1.34355</text>
<text x="1173.3 1178.3 1180.8 1185.8 1190.8 1195.8 1200.8" y="167" font-size="10" fill="#000">1.33845</text>
<text x="1173.3 1178.3 1180.8 1185.8 1190.8 1195.8 1200.8" y="200" font-size="10" fill="#000">1.33335</text>
<text x="1173.3 1178.3 1180.8 1185.8 1190.8 1195.8 1200.8" y="233" font-size="10" fill="#000">1.32825</text>
<text x="1173.3 1178.3 1180.8 1185.8 1190.8 1195.8 1200.8" y="266" font-size="10" fill="#000">1.32315</text>
<text x="1173.3 1178.3 1180.8 1185.8 1190.8 1195.8 1200.8" y="299" font-size="10" fill="#000">1.31805</text>
<text x="1173.3 1178.3 1180.8 1185.8 1190.8 1195.8 1200.8" y="332" font-size="10" fill="#000">1.31295</text>
<text x="1173.3 1178.3 1180.8 1185.8 1190.8 1195.8 1200.8" y="365" font-size="10" fill="#000">1.30785</text>
<text x="1173.3 1178.3 1180.8 1185.8 1190.8 1195.8 1200.8" y="398" font-size="10" fill="#000">1.30275</text>
<rect x="1169" y="342" width="38" height="11" fill="#000"/>
<text x="1173.2 1178.2 1180.7 1185.7 1190.7 1195.7 1200.7" y="351" font-size="10" fill="#fff">1.30989</text>
<rect x="1168" y="401" width="2" height="1" fill="#000"/>
<rect x="1168" y="424" width="2" height="1" fill="#000"/>
<rect x="1168" y="461" width="2" height="1" fill="#000"/>
<text x="1170.6 1175.6 1178.1 1183.1 1188.1 1193.1 1198.1 1203.1" y="410" font-size="10" fill="#000">0.005512</text>
<text x="1170.6 1175.6 1178.1 1183.1" y="428" font-size="10" fill="#000">0.00</text>
<text x="1170.4 1173.9 1178.9 1181.4 1186.4 1191.4 1196.4 1201.4" y="459" font-size="10" fill="#000">-0.00893</text>
<rect x="1168" y="466" width="2" height="1" fill="#000"/>
<rect x="1168" y="540" width="2" height="1" fill="#000"/>
<text x="1170.6 1175.6 1180.6" y="475" font-size="10" fill="#000">100</text>
<text x="1170.0 1175.0" y="492" font-size="10" fill="#000">70</text>
<text x="1170.0 1175.0" y="522" font-size="10" fill="#000">30</text>
<text x="1170.6" y="538" font-size="10" fill="#000">0</text>
<rect x="5" y="542" width="1" height="3" fill="#000"/>
<text x="3.7" y="554" font-size="9.5" fill="#000">26 Feb 2019</text>
<rect x="69" y="542" width="1" height="3" fill="#000"/>
<text x="67.7" y="554" font-size="9.5" fill="#000">7 Mar 2019</text>
<rect x="133" y="542" width="1" height="3" fill="#000"/>
<text x="131.7" y="554" font-size="9.5" fill="#000">16 Mar 2019</text>
<rect x="197" y="542" width="1" height="3" fill="#000"/>
<text x="195.7" y="554" font-size="9.5" fill="#000">26 Mar 2019</text>
<rect x="261" y="542" width="1" height="3" fill="#000"/>
<text x="259.7" y="554" font-size="9.5" fill="#000">4 Apr 2019</text>
<rect x="325" y="542" width="1" height="3" fill="#000"/>
<text x="323.7" y="554" font-size="9.5" fill="#000">13 Apr 2019</text>
<rect x="389" y="542" width="1" height="3" fill="#000"/>
<text x="387.7" y="554" font-size="9.5" fill="#000">23 Apr 2019</text>
<rect x="453" y="542" width="1" height="3" fill="#000"/>
<text x="451.7" y="554" font-size="9.5" fill="#000">2 May 2019</text>
<rect x="517" y="542" width="1" height="3" fill="#000"/>
<text x="515.7" y="554" font-size="9.5" fill="#000">11 May 2019</text>
<rect x="581" y="542" width="1" height="3" fill="#000"/>
<text x="579.7" y="554" font-size="9.5" fill="#000">21 May 2019</text>
<rect x="645" y="542" width="1" height="3" fill="#000"/>
<text x="643.7" y="554" font-size="9.5" fill="#000">30 May 2019</text>
<rect x="709" y="542" width="1" height="3" fill="#000"/>
<text x="707.7" y="554" font-size="9.5" fill="#000">8 Jun 2019</text>
<rect x="773" y="542" width="1" height="3" fill="#000"/>
<text x="771.7" y="554" font-size="9.5" fill="#000">18 Jun 2019</text>
<rect x="837" y="542" width="1" height="3" fill="#000"/>
<text x="835.7" y="554" font-size="9.5" fill="#000">27 Jun 2019</text>
<rect x="901" y="542" width="1" height="3" fill="#000"/>
<text x="899.7" y="554" font-size="9.5" fill="#000">6 Jul 2019</text>
<path d="M8 39 L11.5 35 L15 39 Z" fill="#000"/>
<text x="20.00" y="40" font-size="10" fill="#000" textLength="65.40" lengthAdjust="spacingAndGlyphs">USDCAD,Daily</text>
<text x="92.00" y="40" font-size="10" fill="#000" textLength="141.40" lengthAdjust="spacingAndGlyphs">1.30883 1.31022 1.30824 1.30989</text>
<text x="9.00" y="477" font-size="10" fill="#000" textLength="68.20" lengthAdjust="spacingAndGlyphs">RSI(14) 36.9522</text>
<defs>
<linearGradient id="gt" x1="0" y1="0" x2="0" y2="1"><stop offset="0" stop-color="#5a56fa"/><stop offset="1" stop-color="#3c38e6"/></linearGradient>
<linearGradient id="gb" x1="0" y1="0" x2="0" y2="1"><stop offset="0" stop-color="#3a34e2"/><stop offset="1" stop-color="#0800a8"/></linearGradient>
<linearGradient id="gs" x1="0" y1="0" x2="0" y2="1"><stop offset="0" stop-color="#f2f2f2"/><stop offset="0.42" stop-color="#ebebeb"/><stop offset="0.42" stop-color="#dddddd"/><stop offset="1" stop-color="#d0d0d0"/></linearGradient>
</defs>
<rect x="8" y="72" width="109" height="40" fill="#0000a6"/>
<rect x="8" y="48" width="52" height="25" fill="#0000a6"/>
<rect x="9" y="73" width="107" height="38" fill="url(#gb)"/>
<rect x="9" y="49" width="50" height="24" fill="url(#gt)"/>
<rect x="12" y="71" width="44" height="1" fill="#000070"/>
<rect x="12" y="72" width="44" height="1" fill="#7878ff"/>
<rect x="119" y="72" width="108" height="40" fill="#0000a6"/>
<rect x="175" y="48" width="52" height="25" fill="#0000a6"/>
<rect x="120" y="73" width="106" height="38" fill="url(#gb)"/>
<rect x="176" y="49" width="50" height="24" fill="url(#gt)"/>
<rect x="179" y="71" width="44" height="1" fill="#000070"/>
<rect x="179" y="72" width="44" height="1" fill="#7878ff"/>
<rect x="62" y="48" width="111" height="22" fill="#a9a9a9"/>
<rect x="63" y="49" width="109" height="20" fill="#ffffff"/>
<rect x="64" y="50" width="19" height="18" fill="url(#gs)"/>
<rect x="83" y="49" width="1" height="20" fill="#adadad"/>
<rect x="152" y="50" width="19" height="18" fill="url(#gs)"/>
<rect x="151" y="49" width="1" height="20" fill="#adadad"/>
<path d="M70.5 57 L76.5 57 L73.5 60 Z" fill="#4f68b8"/>
<path d="M158.5 60 L164.5 60 L161.5 57 Z" fill="#4f68b8"/>
<text x="124.00" y="63.3" font-size="12" fill="#000" textLength="24.00" lengthAdjust="spacingAndGlyphs">5.00</text>
<text x="20.30" y="63.8" font-size="12" fill="#e4e4ff" textLength="25.70" lengthAdjust="spacingAndGlyphs">SELL</text>
<text x="188.30" y="63.8" font-size="12" fill="#e4e4ff" textLength="23.70" lengthAdjust="spacingAndGlyphs">BUY</text>
<text x="28" y="103" font-size="12" font-weight="bold" fill="#fff">1.30</text>
<text x="55" y="103" font-size="35" font-family="Liberation Serif, serif" fill="#fff" textLength="36" lengthAdjust="spacingAndGlyphs" style="font-family:'Liberation Serif',serif">98</text>
<text x="94.8" y="87" font-size="12.5" font-weight="bold" fill="#fff">9</text>
<text x="138" y="103" font-size="12" font-weight="bold" fill="#fff">1.31</text>
<text x="165.5" y="103" font-size="35" font-family="Liberation Serif, serif" fill="#fff" textLength="36" lengthAdjust="spacingAndGlyphs" style="font-family:'Liberation Serif',serif">01</text>
<text x="205.5" y="87" font-size="12.5" font-weight="bold" fill="#fff">1</text>
<rect x="0" y="562" width="1207" height="1" fill="#e6e6e6"/>
<rect x="0" y="563" width="1207" height="1" fill="#ffffff"/>
<rect x="0" y="564" width="1207" height="1" fill="#000"/>
<rect x="0" y="565" width="1207" height="1" fill="#fafafa"/>
<rect x="0" y="566" width="1207" height="18" fill="#f0f0f0"/>
<rect x="0" y="584" width="1207" height="1" fill="#ffffff"/>
<rect x="0" y="585" width="1207" height="1" fill="#f4f4f4"/>
<rect x="0" y="565" width="1" height="19" fill="#a0a0a0"/>
<rect x="1" y="565" width="1" height="19" fill="#c8c8c8"/>
<rect x="313" y="565" width="1" height="19" fill="#ffffff"/>
<rect x="314" y="564" width="104" height="19" fill="#000"/>
<rect x="315" y="564" width="102" height="18" fill="#ffffff"/>
<rect x="418" y="565" width="1" height="19" fill="#ffffff"/>
<text x="18" y="579" font-size="12" fill="#6e6e6e">EURUSD,Daily</text>
<text x="121.3" y="579" font-size="12" fill="#6e6e6e">AUDUSD,Daily</text>
<text x="224.5" y="579" font-size="12" fill="#6e6e6e">USDCHF,Daily</text>
<text x="325.8" y="579" font-size="12" fill="#000">USDCAD,Daily</text>
<text x="428.6" y="579" font-size="12" fill="#6e6e6e">USDCNH,Daily</text>
<text x="533" y="579" font-size="12" fill="#6e6e6e">XAUUSD,H4</text>
<text x="624.5" y="579" font-size="12" fill="#6e6e6e">DJ30,H4</text>
<text x="694.4" y="579" font-size="12" fill="#6e6e6e">USDOil,H1</text>
<text x="776.4" y="579" font-size="12" fill="#6e6e6e">USDCHF,H1</text>
<text x="866.4" y="579" font-size="12" fill="#6e6e6e">GBPUSD,H1</text>
<text x="958" y="579" font-size="12" fill="#6e6e6e">EURUSD,H1</text>
<text x="1049.5" y="579" font-size="12" fill="#6e6e6e">GBPAUD,H1</text>
<text x="1140.2" y="579" font-size="12" fill="#6e6e6e">USDJP</text>
<rect x="109" y="566" width="3" height="16" fill="#fcfcfc"/>
<rect x="110" y="567" width="1" height="14" fill="#6a6a6a"/>
<rect x="213" y="566" width="3" height="16" fill="#fcfcfc"/>
<rect x="214" y="567" width="1" height="14" fill="#6a6a6a"/>
<rect x="521" y="566" width="3" height="16" fill="#fcfcfc"/>
<rect x="522" y="567" width="1" height="14" fill="#6a6a6a"/>
<rect x="613" y="566" width="3" height="16" fill="#fcfcfc"/>
<rect x="614" y="567" width="1" height="14" fill="#6a6a6a"/>
<rect x="681" y="566" width="3" height="16" fill="#fcfcfc"/>
<rect x="682" y="567" width="1" height="14" fill="#6a6a6a"/>
<rect x="765" y="566" width="3" height="16" fill="#fcfcfc"/>
<rect x="766" y="567" width="1" height="14" fill="#6a6a6a"/>
<rect x="853" y="566" width="3" height="16" fill="#fcfcfc"/>
<rect x="854" y="567" width="1" height="14" fill="#6a6a6a"/>
<rect x="945" y="566" width="3" height="16" fill="#fcfcfc"/>
<rect x="946" y="567" width="1" height="14" fill="#6a6a6a"/>
<rect x="1037" y="566" width="3" height="16" fill="#fcfcfc"/>
<rect x="1038" y="567" width="1" height="14" fill="#6a6a6a"/>
<rect x="1129" y="566" width="3" height="16" fill="#fcfcfc"/>
<rect x="1130" y="567" width="1" height="14" fill="#6a6a6a"/>
<path d="M1182 573.5 L1186 570 L1186 577 Z" fill="#a0a0a0"/>
<path d="M1201 570 L1205.5 573.5 L1201 577 Z" fill="#000"/>
<rect x="1178" y="565" width="29" height="19" fill="#f0f0f0" opacity="0"/>
</svg>
</body></html>
